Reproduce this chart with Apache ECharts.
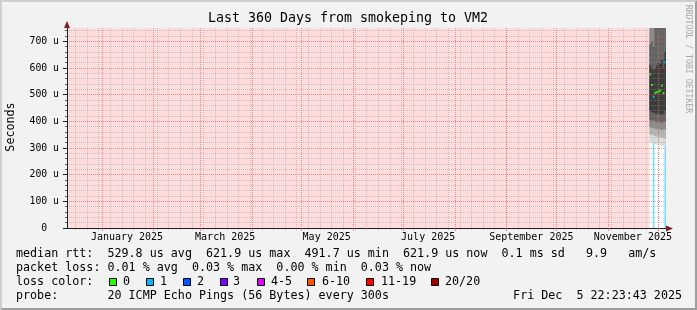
<!DOCTYPE html>
<html>
<head>
<meta charset="utf-8">
<script src="https://cdn.jsdelivr.net/npm/echarts@6/dist/echarts.min.js"></script>
<style>
html, body { margin: 0; padding: 0; background: #f2f2f2; }
#chart { width: 697px; height: 310px; }
</style>
</head>
<body>
<div id="chart"></div>
<script>
const DAY = 86400000
const t = s => Date.parse(s + 'T00:00:00Z')

// graph span: last 360 days up to the timestamp
const rangeStart = Date.UTC(2024, 11, 10, 22, 23, 43)
const rangeEnd = Date.UTC(2025, 11, 5, 22, 23, 43)

// axes
const monthStarts = ['2025-01-01', '2025-02-01', '2025-03-01', '2025-04-01', '2025-05-01', '2025-06-01',
  '2025-07-01', '2025-08-01', '2025-09-01', '2025-10-01', '2025-11-01', '2025-12-01']
const monthLabelAt = ['2025-01-16', '2025-03-16', '2025-05-16', '2025-07-16', '2025-09-16', '2025-11-16']
const monthNames = ['January', 'February', 'March', 'April', 'May', 'June', 'July',
  'August', 'September', 'October', 'November', 'December']
const yTicks = [0, 100, 200, 300, 400, 500, 600, 700]
const yMax = 750

// daily data (microseconds), only the last days have samples
const days = ['2025-11-26', '2025-11-27', '2025-11-28', '2025-11-29', '2025-11-30',
  '2025-12-01', '2025-12-02', '2025-12-03', '2025-12-04', '2025-12-05']
const median = [576, 536, 492, 507, 509, 511, 516, 533, 506, 622]
const lost = [0, 0, 1, 0, 0, 0, 0, 0, 0, 1] // lost pings of 20

// smoke: ping pairs, outermost first
const smokeLow1 = [320, 318, 322, 315, 312, 318, 310, 305, 308, 300]
const smokeLow2 = [352, 348, 350, 345, 342, 346, 340, 338, 340, 335]
const smokeLow3 = [378, 374, 376, 372, 370, 374, 368, 366, 370, 368]
const smokeLow4 = [405, 402, 404, 400, 398, 402, 396, 395, 398, 400]
const smokeLow5 = [440, 435, 432, 430, 428, 432, 426, 425, 430, 440]
const smokeHigh5 = [610, 600, 590, 600, 610, 620, 615, 630, 600, 660]
const smokeHigh4 = [690, 700, 680, 780, 800, 820, 790, 810, 780, 800]
const smokeHigh3 = [900, 880, 860, 1100, 1200, 1100, 1050, 1150, 1000, 1100]
const smokeHigh2 = [1400, 1350, 1300, 1600, 1700, 1600, 1500, 1650, 1500, 1600]
const smokeHigh1 = [2500, 2400, 2300, 2800, 3000, 2900, 2700, 2900, 2600, 2800]
const smokeColors = ['#d8d8d8', '#b0b0b0', '#888888', '#606060', '#383838']

const lossColors = ['#26ff00', '#00b8ff', '#0059ff', '#7e00ff', '#dd00ff', '#ff5500', '#ff0000', '#a10000']
const lossNames = ['0', '1', '2', '3', '4-5', '6-10', '11-19', '20/20']

const fontMono = "'DejaVu Sans Mono', monospace"
const gridColor = 'rgba(143,143,143,0.42)'
const mgridColor = 'rgba(222,79,79,0.6)'

const minorX = []
for (let w = t('2024-12-16'); w < rangeEnd; w += 7 * DAY) minorX.push(w)
const minorY = []
for (let v = 20; v < yMax; v += 20) if (v % 100) minorY.push(v)

const smokeData = []
const lows = [smokeLow1, smokeLow2, smokeLow3, smokeLow4, smokeLow5]
const highs = [smokeHigh1, smokeHigh2, smokeHigh3, smokeHigh4, smokeHigh5]
lows.forEach((low, b) => {
  days.forEach((d, i) => {
    smokeData.push([t(d), t(d) + DAY, low[i], highs[b][i], b])
  })
})
const medianData = days.map((d, i) => [t(d), t(d) + DAY, median[i], lost[i]])
const lossBarData = days.map((d, i) => [t(d), t(d) + DAY, 0, median[i]]).filter((x, i) => lost[i] > 0)

function rectItem (api, fill) {
  const p0 = api.coord([api.value(0), api.value(3)])
  const p1 = api.coord([api.value(1), api.value(2)])
  return {
    type: 'rect',
    shape: { x: p0[0], y: p0[1], width: p1[0] - p0[0], height: p1[1] - p0[1] },
    style: { fill: fill }
  }
}

const legendRows = [
  { y: 254, text: 'median rtt:  529.8 us avg  621.9 us max  491.7 us min  621.9 us now  0.1 ms sd   9.9   am/s' },
  { y: 268, text: 'packet loss: 0.01 % avg  0.03 % max  0.00 % min  0.03 % now' },
  { y: 282, text: 'loss color:' },
  { y: 296, text: 'probe:       20 ICMP Echo Pings (56 Bytes) every 300s' }
]
const boxX = [109, 146, 183, 220, 257, 307, 366, 431]
const boxLabelX = [123, 160, 197, 233, 271, 322, 381, 445]

const graphics = [
  { type: 'polygon', shape: { points: [[0, 0], [697, 0], [695, 2], [2, 2], [2, 308], [0, 310]] }, style: { fill: '#cfcfcf' } },
  { type: 'polygon', shape: { points: [[697, 310], [0, 310], [2, 308], [695, 308], [695, 2], [697, 0]] }, style: { fill: '#9e9e9e' } },
  { type: 'text', x: 348, y: 19, style: { text: 'Last 360 Days from smokeping to VM2', font: '13.3px ' + fontMono, fill: '#000', align: 'center', verticalAlign: 'middle' } },
  { type: 'text', x: 11, y: 127, rotation: Math.PI / 2, style: { text: 'Seconds', font: '11.7px ' + fontMono, fill: '#000', align: 'center', verticalAlign: 'middle' } },
  { type: 'text', x: 688, y: 59, rotation: -Math.PI / 2, style: { text: 'RRDTOOL / TOBI OETIKER', font: '8.2px ' + fontMono, fill: '#a8a8a8', align: 'center', verticalAlign: 'middle' } },
  { type: 'text', x: 682, y: 296, style: { text: 'Fri Dec  5 22:23:43 2025', font: '11.7px ' + fontMono, fill: '#000', align: 'right', verticalAlign: 'middle' } },
  { type: 'polygon', z: 20, shape: { points: [[64, 28], [70, 28], [67, 21]] }, style: { fill: '#801f1f' } },
  { type: 'polygon', z: 20, shape: { points: [[666, 225.5], [666, 231.5], [673, 228.5]] }, style: { fill: '#801f1f' } }
]
legendRows.forEach(r => {
  graphics.push({ type: 'text', x: 16, y: r.y, style: { text: r.text, font: '11.7px ' + fontMono, fill: '#000', verticalAlign: 'middle' } })
})
lossColors.forEach((c, i) => {
  graphics.push({ type: 'rect', shape: { x: boxX[i] + 0.5, y: 278.5, width: 7, height: 7 }, style: { fill: c, stroke: '#000', lineWidth: 1 } })
  graphics.push({ type: 'text', x: boxLabelX[i], y: 282, style: { text: lossNames[i], font: '11.7px ' + fontMono, fill: '#000', verticalAlign: 'middle' } })
})

const chart = echarts.init(document.getElementById('chart'))
chart.setOption({
  animation: false,
  backgroundColor: '#f2f2f2',
  grid: { left: 67, right: 31, top: 28, bottom: 82, show: true, backgroundColor: '#ffffff', borderWidth: 0 },
  xAxis: [
    {
      type: 'value', position: 'bottom', min: rangeStart, max: rangeEnd, z: 5,
      axisLine: { show: true, lineStyle: { color: '#1f1f1f' } },
      axisTick: { show: true, length: 3, customValues: monthStarts.map(t), lineStyle: { color: mgridColor } },
      axisLabel: {
        customValues: monthLabelAt.map(t), margin: 4, fontSize: 10, fontFamily: fontMono, color: '#000',
        formatter: v => { const d = new Date(v); return monthNames[d.getUTCMonth()] + ' ' + d.getUTCFullYear() }
      },
      splitLine: { show: true, lineStyle: { color: mgridColor, type: [1, 1] } }
    },
    {
      type: 'value', position: 'bottom', min: rangeStart, max: rangeEnd, z: 4,
      axisLine: { show: false },
      axisTick: { show: true, length: 2, customValues: minorX, lineStyle: { color: gridColor } },
      axisLabel: { show: false },
      splitLine: { show: true, lineStyle: { color: gridColor, type: [1, 1] } }
    }
  ],
  yAxis: [
    {
      type: 'value', position: 'left', min: 0, max: yMax, z: 5,
      axisLine: { show: true, lineStyle: { color: '#1f1f1f' } },
      axisTick: { show: true, length: 4, customValues: yTicks, lineStyle: { color: '#1f1f1f' } },
      axisLabel: {
        customValues: yTicks, margin: 8, fontSize: 9.8, fontFamily: fontMono, color: '#000',
        formatter: v => (v === 0 ? '0  ' : v + ' u')
      },
      splitLine: { show: true, lineStyle: { color: mgridColor, type: [1, 1] } }
    },
    {
      type: 'value', position: 'left', min: 0, max: yMax, z: 4,
      axisLine: { show: false },
      axisTick: { show: true, length: 2, customValues: minorY, lineStyle: { color: '#5a5a5a' } },
      axisLabel: { show: false },
      splitLine: { show: true, lineStyle: { color: gridColor, type: [1, 1] } }
    }
  ],
  graphic: graphics,
  series: [
    {
      name: 'unknown', type: 'custom', clip: true, z: 1,
      data: [[rangeStart, t(days[0]), 0, yMax]],
      encode: { x: [0, 1], y: [2, 3] },
      renderItem: (params, api) => rectItem(api, '#ffdddd')
    },
    {
      name: 'loss', type: 'custom', clip: true, z: 2,
      data: lossBarData,
      encode: { x: [0, 1], y: [2, 3] },
      renderItem: (params, api) => rectItem(api, 'rgba(0,184,255,0.5)')
    },
    {
      name: 'smoke', type: 'custom', clip: true, z: 3,
      data: smokeData,
      encode: { x: [0, 1], y: [2, 3] },
      renderItem: (params, api) => rectItem(api, smokeColors[api.value(4)])
    },
    {
      name: 'median', type: 'custom', clip: true, z: 4,
      data: medianData,
      encode: { x: [0, 1], y: 2 },
      renderItem: (params, api) => {
        const p0 = api.coord([api.value(0), api.value(2)])
        const p1 = api.coord([api.value(1), api.value(2)])
        return {
          type: 'rect',
          shape: { x: p0[0], y: p0[1] - 1, width: p1[0] - p0[0], height: 2 },
          style: { fill: lossColors[api.value(3)] }
        }
      }
    }
  ]
})
</script>
</body>
</html>
